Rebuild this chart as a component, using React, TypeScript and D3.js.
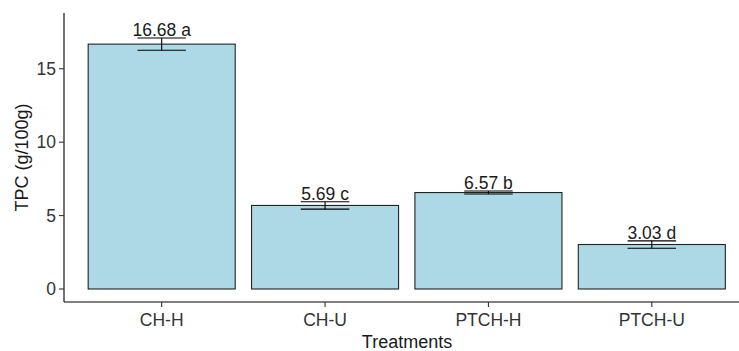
import React from 'react';
import * as d3 from 'd3';

const treatments = ['CH-H', 'CH-U', 'PTCH-H', 'PTCH-U'];
const tpc = [16.68, 5.69, 6.57, 3.03];
const sdErr = [0.42, 0.25, 0.1, 0.25];
const letters = ['a', 'c', 'b', 'd'];
const yTicks = [0, 5, 10, 15];

export default function App() {
  const width = 739;
  const height = 351;
  const left = 64;
  const bottom = 302;
  const top = 13;

  const x = d3.scaleBand<string>()
    .domain(treatments)
    .range([80, 733.5])
    .paddingInner(0.1)
    .paddingOuter(0.05);

  const y = d3.scaleLinear()
    .domain([-0.886, 18.8])
    .range([bottom, top]);

  const font = '"Liberation Sans", Arial, sans-serif';

  return (
    <svg width={width} height={height} style={{ position: 'absolute', left: 0, top: 0 }}>
      <rect width={width} height={height} fill="#fff" />
      {treatments.map((t, i) => {
        const bx = x(t)!;
        const bw = x.bandwidth();
        const cx = bx + bw / 2;
        const capW = bw * 0.33;
        const hi = y(tpc[i] + sdErr[i]);
        const lo = y(tpc[i] - sdErr[i]);
        return (
          <g key={t}>
            <rect x={bx} y={y(tpc[i])} width={bw} height={y(0) - y(tpc[i])}
              fill="#ADD8E6" stroke="#222" strokeWidth={1.1} />
            <line x1={cx} x2={cx} y1={hi} y2={lo} stroke="#000" strokeWidth={1.1} />
            <line x1={cx - capW / 2} x2={cx + capW / 2} y1={hi} y2={hi} stroke="#000" strokeWidth={1.1} />
            <line x1={cx - capW / 2} x2={cx + capW / 2} y1={lo} y2={lo} stroke="#000" strokeWidth={1.1} />
            <text x={cx} y={hi - 2} textAnchor="middle" fontFamily={font} fontSize={17.5} fill="#1a1a1a">
              {`${tpc[i].toFixed(2)} ${letters[i]}`}
            </text>
          </g>
        );
      })}
      {/* axes */}
      <line x1={left} x2={left} y1={top} y2={bottom} stroke="#000" strokeWidth={1.1} />
      <line x1={left} x2={width} y1={bottom} y2={bottom} stroke="#000" strokeWidth={1.1} />
      {yTicks.map(v => (
        <g key={v}>
          <line x1={left - 5} x2={left} y1={y(v)} y2={y(v)} stroke="#333" strokeWidth={1.1} />
          <text x={left - 8} y={y(v)} dy="0.36em" textAnchor="end" fontFamily={font} fontSize={17.5} fill="#333">{v}</text>
        </g>
      ))}
      {treatments.map(t => {
        const cx = x(t)! + x.bandwidth() / 2;
        return (
          <g key={t}>
            <line x1={cx} x2={cx} y1={bottom} y2={bottom + 5} stroke="#333" strokeWidth={1.1} />
            <text x={cx} y={bottom + 24} textAnchor="middle" fontFamily={font} fontSize={17.5} fill="#333">{t}</text>
          </g>
        );
      })}
      <text x={407} y={348} textAnchor="middle" fontFamily={font} fontSize={18} fill="#1a1a1a">Treatments</text>
      <text transform={`translate(28,${(top + bottom) / 2}) rotate(-90)`} textAnchor="middle"
        fontFamily={font} fontSize={18} fill="#1a1a1a">TPC (g/100g)</text>
    </svg>
  );
}
